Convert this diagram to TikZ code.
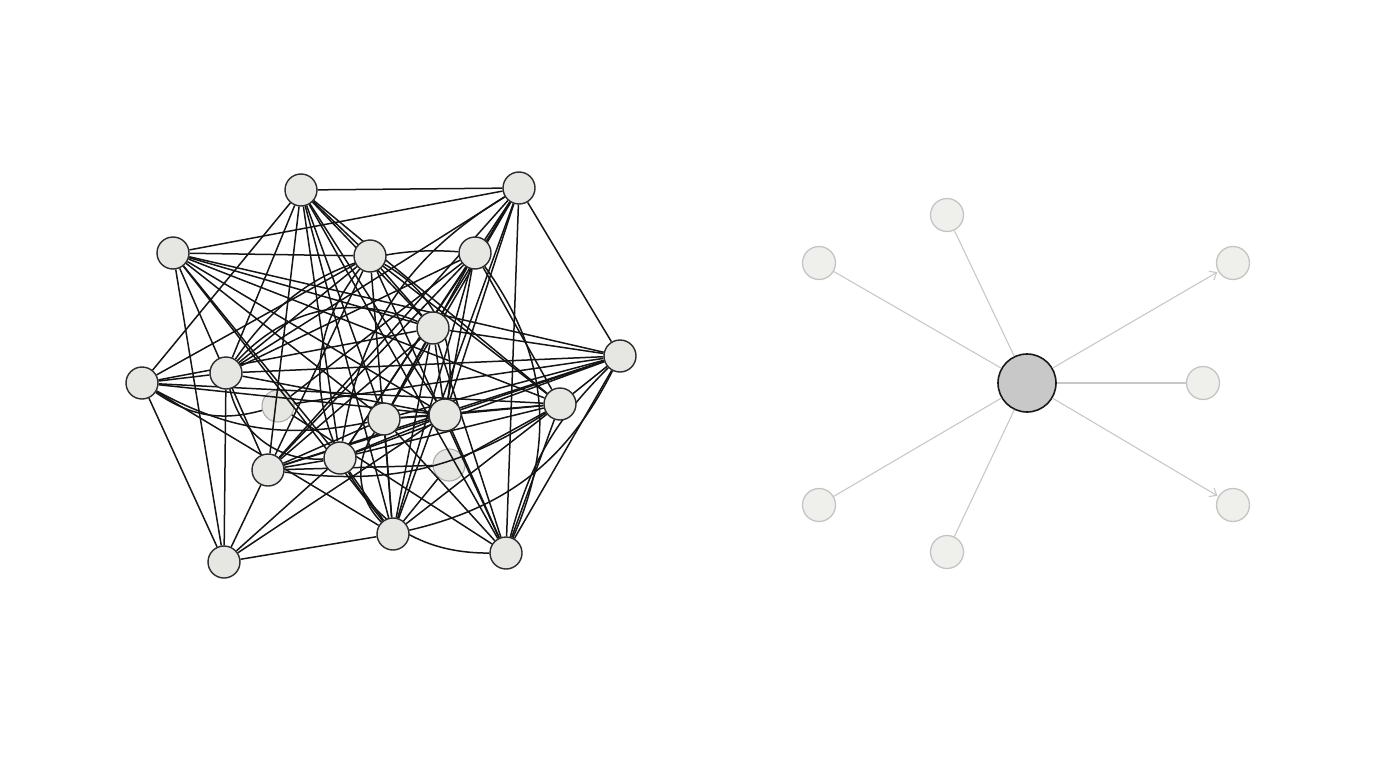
\documentclass[tikz,border=0pt]{standalone}
\usetikzlibrary{arrows.meta,backgrounds}
\definecolor{nodefill}{HTML}{E6E6E2}
\definecolor{nodeline}{HTML}{2A2A2A}
\definecolor{satfill}{HTML}{EFEFEB}
\definecolor{satline}{HTML}{C4C4C4}
\definecolor{hubfill}{HTML}{C8C8C8}
\definecolor{faintedge}{HTML}{C8C8C8}
\tikzset{
  dot/.style={circle,draw=nodeline,fill=nodefill,line width=1.4pt,minimum size=32pt,inner sep=0pt},
  fadedot/.style={circle,draw=nodeline!40,fill=nodefill,line width=1.1pt,minimum size=32pt,inner sep=0pt},
  edge/.style={line width=1.5pt,draw=black!92},
  sat/.style={circle,draw=satline,fill=satfill,line width=1.3pt,minimum size=33pt,inner sep=0pt},
  hub/.style={circle,draw=black!90,fill=hubfill,line width=1.6pt,minimum size=58pt,inner sep=0pt},
  spoke/.style={line width=1.1pt,draw=faintedge},
  arrowspoke/.style={spoke,-{Straight Barb[length=6pt,width=10pt]},shorten >=1pt}
}
\begin{document}
\begin{tikzpicture}[x=1pt,y=-1pt]
\useasboundingbox (0,0) rectangle (1376,768);
% ---------- left graph nodes ----------
\node[dot] (A) at (301,190) {};
\node[dot] (B) at (519,188) {};
\node[dot] (C) at (173,253) {};
\node[dot] (D) at (370,256) {};
\node[dot] (E) at (475,253) {};
\node[dot] (F) at (433,328) {};
\node[dot] (G) at (620,356) {};
\node[dot] (H) at (142,383) {};
\node[dot] (I) at (226,373) {};
\node[dot] (K) at (384,419) {};
\node[dot] (L) at (445,415) {};
\node[dot] (M) at (560,404) {};
\node[dot] (N) at (268,470) {};
\node[dot] (O) at (340,458) {};
\node[dot] (Q) at (393,534) {};
\node[dot] (R) at (224,562) {};
\node[dot] (S) at (506,553) {};
\begin{pgfonlayer}{background}
\node[fadedot] (J) at (278,406) {};
\node[fadedot] (P) at (449,465) {};
\foreach \a/\b in {
  A/B, A/H, A/I, A/N, A/O, A/K, A/Q, A/L, A/F, A/M, A/D, A/S,
  B/C, B/F, B/I, B/N, B/O, B/K, B/L, B/Q, B/S, B/G,
  C/D, C/F, C/G, C/M, C/L, C/K, C/O, C/Q, C/R, C/N,
  D/F, D/H, D/I, D/M, D/S, D/N, D/Q,
  E/I, E/N, E/O, E/K, E/Q, E/L, E/M,
  F/G, F/H, F/K, F/L, F/Q, F/S, F/N,
  G/I, G/K, G/L, G/M, G/O, G/S, G/N,
  H/I, H/L, H/R, H/M, H/Q,
  I/R, I/L,
  K/L, K/M, K/N, K/Q, K/S,
  L/M, L/O, L/N, L/S, L/R,
  M/O, M/Q, M/S,
  N/R, N/O,
  O/Q, O/R,
  Q/R, Q/P}
  \draw[edge] (\a) -- (\b);
% curved connectors
\draw[edge] (H) to[bend right=20] (K);
\draw[edge] (H) to[bend right=25] (J);
\draw[edge] (I) to[bend left=35] (F);
\draw[edge] (I) to[bend right=40] (O);
\draw[edge] (D) to[bend right=30] (O);
\draw[edge] (E) to[bend right=30] (I);
\draw[edge] (B) to[bend right=25] (O);
\draw[edge] (G) to[bend right=15] (S);
\draw[edge] (M) to[bend left=20] (N);
\draw[edge] (O) to[bend right=30] (S);
\draw[edge] (Q) to[bend right=25] (G);
\draw[edge] (D) to[bend left=35] (L);
\draw[edge] (E) to[bend left=30] (S);
\draw[edge] (K) to[bend right=40] (Q);
\draw[edge] (P) -- (M);
\draw[edge] (P) -- (N);
\draw[edge] (J) -- (G);
\draw[edge] (J) -- (S);
\draw[edge] (J) -- (E);
\end{pgfonlayer}
% ---------- right star ----------
\node[hub] (hub) at (1027,383) {};
\node[sat] (s1) at (947,215) {};
\node[sat] (s2) at (819,263) {};
\node[sat] (s3) at (1233,263) {};
\node[sat] (s4) at (1203,383) {};
\node[sat] (s5) at (819,505) {};
\node[sat] (s6) at (947,552) {};
\node[sat] (s7) at (1233,505) {};
\draw[spoke] (hub) -- (s1);
\draw[spoke] (hub) -- (s2);
\draw[spoke] (hub) -- (s4);
\draw[spoke] (hub) -- (s5);
\draw[spoke] (hub) -- (s6);
\draw[arrowspoke] (hub) -- (s3);
\draw[arrowspoke] (hub) -- (s7);
\end{tikzpicture}
\end{document}
